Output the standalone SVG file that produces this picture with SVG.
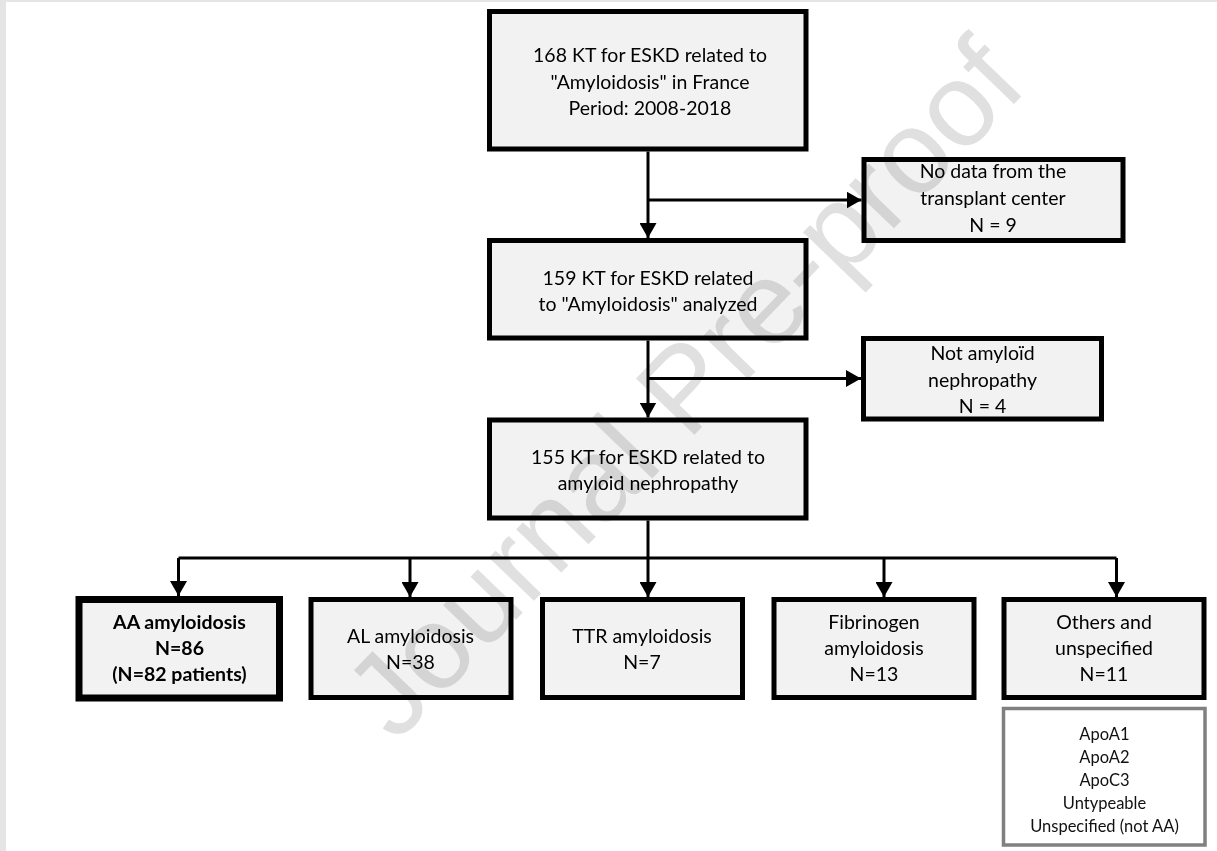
<svg xmlns="http://www.w3.org/2000/svg" width="1217" height="851" viewBox="0 0 1217 851">
  <style>
    .box { fill: #f2f2f2; stroke: #000; stroke-width: 5; }
    .thick { stroke-width: 7; }
    .sub { fill: #ffffff; stroke: #808080; stroke-width: 3.5; }
    .t { font-family: Lato, "Liberation Sans", sans-serif; font-size: 19.5px; fill: #000; text-anchor: middle; }
    .b { font-weight: bold; }
    .s { font-family: Lato, "Liberation Sans", sans-serif; font-size: 16.5px; fill: #111; text-anchor: middle; }
    .c { fill: none; stroke: #000; stroke-width: 3; }
    .wm { font-family: "Liberation Sans", Arial, sans-serif; font-size: 118px; fill: #e0e0e0; text-anchor: middle; mix-blend-mode: multiply; }
  </style>
  <defs>
    <marker id="arr" markerUnits="userSpaceOnUse" markerWidth="15" markerHeight="17" refX="15" refY="8.5" orient="auto">
      <path d="M0,0 L15,8.5 L0,17 Z" fill="#000"/>
    </marker>
  </defs>
  <rect x="0" y="0" width="1217" height="851" fill="#ffffff"/>
  <rect x="0" y="0" width="1217" height="2" fill="#e5e5e5"/>
  <rect x="0" y="0" width="6" height="851" fill="#e5e5e5"/>

  <g id="connectors">
    <path class="c" d="M648,151.5 V238" marker-end="url(#arr)"/>
    <path class="c" d="M648,200 H861.5" marker-end="url(#arr)"/>
    <path class="c" d="M648,340.5 V417.5" marker-end="url(#arr)"/>
    <path class="c" d="M648,378.5 H861" marker-end="url(#arr)"/>
    <path class="c" d="M648,520.5 V558"/>
    <path class="c" d="M178.5,558 H1116.5"/>
    <path class="c" d="M178.5,558 V596" marker-end="url(#arr)"/>
    <path class="c" d="M410,558 V597" marker-end="url(#arr)"/>
    <path class="c" d="M648,558 V597" marker-end="url(#arr)"/>
    <path class="c" d="M884,558 V597" marker-end="url(#arr)"/>
    <path class="c" d="M1116.5,558 V597" marker-end="url(#arr)"/>
  </g>

  <g id="n1">
    <rect class="box" x="489.5" y="11.5" width="316.5" height="137.5"/>
    <text class="t" x="650" y="62">168 KT for ESKD related to</text>
    <text class="t" x="650" y="88.5">"Amyloidosis" in France</text>
    <text class="t" x="650" y="115">Period: 2008-2018</text>
  </g>
  <g id="n2">
    <rect class="box" x="864" y="159.5" width="259" height="81"/>
    <text class="t" x="993" y="178">No data from the</text>
    <text class="t" x="993" y="205">transplant center</text>
    <text class="t" x="993" y="232">N = 9</text>
  </g>
  <g id="n3">
    <rect class="box" x="489.5" y="240.5" width="316.5" height="97.5"/>
    <text class="t" x="648" y="284.5">159 KT for ESKD related</text>
    <text class="t" x="648" y="311">to "Amyloidosis" analyzed</text>
  </g>
  <g id="n4">
    <rect class="box" x="863.5" y="338.5" width="238" height="80.5"/>
    <text class="t" x="982.5" y="360">Not amyloïd</text>
    <text class="t" x="982.5" y="387">nephropathy</text>
    <text class="t" x="982.5" y="413">N = 4</text>
  </g>
  <g id="n5">
    <rect class="box" x="489.5" y="420" width="316.5" height="98"/>
    <text class="t" x="648" y="464">155 KT for ESKD related to</text>
    <text class="t" x="648" y="490">amyloid nephropathy</text>
  </g>
  <g id="aa">
    <rect class="box thick" x="79" y="599.5" width="200.5" height="98.5"/>
    <text class="t b" x="179.5" y="629">AA amyloidosis</text>
    <text class="t b" x="179.5" y="655">N=86</text>
    <text class="t b" x="179.5" y="681">(N=82 patients)</text>
  </g>
  <g id="al">
    <rect class="box" x="311" y="599.5" width="200" height="98"/>
    <text class="t" x="410.5" y="643">AL amyloidosis</text>
    <text class="t" x="410.5" y="669">N=38</text>
  </g>
  <g id="ttr">
    <rect class="box" x="542.5" y="599.5" width="200" height="98"/>
    <text class="t" x="642" y="643">TTR amyloidosis</text>
    <text class="t" x="642" y="669">N=7</text>
  </g>
  <g id="fib">
    <rect class="box" x="774" y="599.5" width="200" height="98"/>
    <text class="t" x="874" y="629">Fibrinogen</text>
    <text class="t" x="874" y="655">amyloidosis</text>
    <text class="t" x="874" y="681">N=13</text>
  </g>
  <g id="others">
    <rect class="box" x="1004" y="599.5" width="200" height="98"/>
    <text class="t" x="1104" y="629">Others and</text>
    <text class="t" x="1104" y="655">unspecified</text>
    <text class="t" x="1104" y="681">N=11</text>
  </g>
  <g id="sub">
    <rect class="sub" x="1003.5" y="708.5" width="201.5" height="136.5"/>
    <text class="s" x="1104.5" y="740">ApoA1</text>
    <text class="s" x="1104.5" y="763">ApoA2</text>
    <text class="s" x="1104.5" y="786">ApoC3</text>
    <text class="s" x="1104.5" y="809">Untypeable</text>
    <text class="s" x="1104.5" y="832">Unspecified (not AA)</text>
  </g>

  <g id="watermark">
    <text class="wm" transform="translate(684,388) rotate(-46)" x="0" y="40">Journal Pre-proof</text>
  </g>
</svg>
